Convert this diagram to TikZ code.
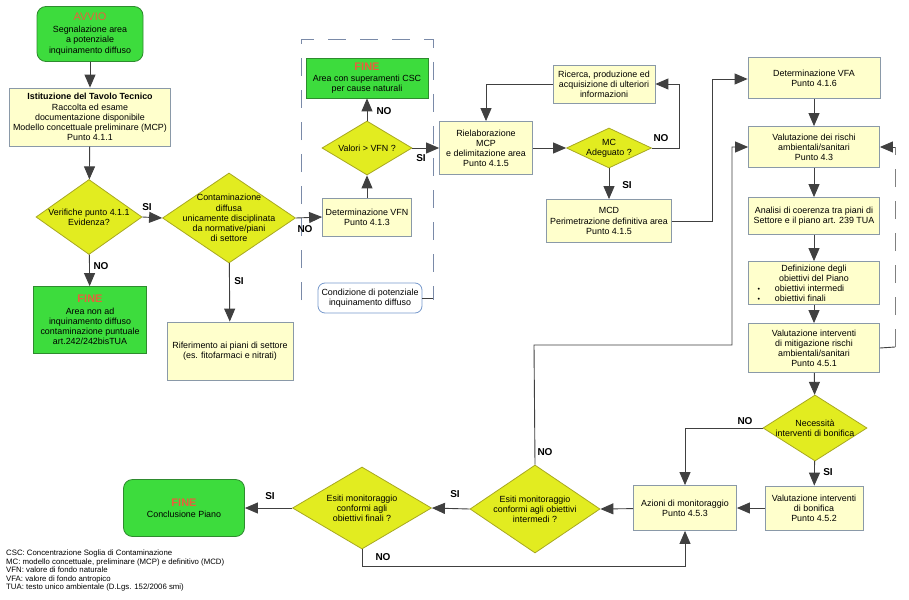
\documentclass[tikz,border=0pt]{standalone}
\usepackage{fontspec}
\setmainfont{Liberation Sans}
\usetikzlibrary{shapes.geometric,arrows.meta}
\definecolor{boxfill}{HTML}{FFFFCC}
\definecolor{boxborder}{HTML}{8A99A8}
\definecolor{diafill}{HTML}{E2EC20}
\definecolor{diaborder}{HTML}{A8A820}
\definecolor{greenfill}{HTML}{3DDC3D}
\definecolor{greenborder}{HTML}{2E8B2E}
\definecolor{titlecol}{HTML}{E8603C}
\definecolor{linecol}{HTML}{404040}
\definecolor{dashcol}{HTML}{7A8AA8}
\definecolor{condborder}{HTML}{7799CC}
\newcommand\boxfont{\fontsize{8.9}{10.1}\selectfont}
\newcommand\labfont{\fontsize{10}{12}\selectfont\bfseries}
\newcommand\titlefont{\fontsize{11}{13}\selectfont\bfseries\color{titlecol}}
\newcommand\legfont{\fontsize{7.8}{8.5}\selectfont}
\tikzset{
  base/.style={font=\boxfont, align=center, inner sep=1pt, line width=0.8pt},
  ybox/.style={base, rectangle, draw=boxborder, fill=boxfill},
  gbox/.style={base, rectangle, draw=greenborder, fill=greenfill},
  ground/.style={gbox, rounded corners=9pt},
  condbox/.style={base, rectangle, draw=condborder, fill=white, rounded corners=7pt},
  dia/.style={diamond, draw=diaborder, fill=diafill, line width=0.8pt, inner sep=0pt},
  dtext/.style={font=\boxfont, align=center, inner sep=0pt},
  conn/.style={draw=linecol, line width=0.9pt, -{Triangle[length=13pt,width=11pt]}},
  plain/.style={draw=linecol, line width=0.9pt},
  dashline/.style={draw=dashcol, line width=0.8pt, dash pattern=on 18pt off 14pt},
  lab/.style={font=\labfont, inner sep=0pt},
  sz/.style 2 args={minimum width=#1pt, minimum height=#2pt},
}
\begin{document}
\begin{tikzpicture}[x=1pt,y=-1pt]
\fill[white] (0,0) rectangle (909,599);
\useasboundingbox (0,0) rectangle (909,599);

% dashed region
\draw[dashline] (301,300) -- (301,39) -- (433,39) -- (433,300);

% nodes
\node[ground, sz={106}{55}] (avvio) at (90,34) {{\titlefont\mdseries AVVIO}\\[2pt]Segnalazione area\\a potenziale\\inquinamento diffuso};
\node[ybox, sz={161}{58}] (ist) at (90,117) {\textbf{Istituzione del Tavolo Tecnico}\\Raccolta ed esame\\documentazione disponibile\\Modello concettuale preliminare (MCP)\\Punto 4.1.1};
\node[dia, sz={106}{75}] (ver) at (89,217) {};
\node[dtext] (vert) at (ver) {Verifiche punto 4.1.1\\Evidenza?};
\node[gbox, sz={113}{67}] (fine1) at (90,320) {{\titlefont FINE}\\[2pt]Area non ad\\inquinamento diffuso\\contaminazione puntuale\\art.242/242bisTUA};
\node[dia, sz={133}{90}] (cont) at (229,218) {};
\node[dtext] (contt) at (cont) {Contaminazione\\diffusa\\unicamente disciplinata\\da normative/piani\\di settore};
\node[ybox, sz={126}{58}] (rif) at (230,351) {Riferimento ai piani di settore\\(es. fitofarmaci e nitrati)};

\node[gbox, sz={122}{40}] (fine2) at (367,78) {{\titlefont FINE}\\[1pt]Area con superamenti CSC\\per cause naturali};
\node[dia, sz={90}{54}] (valvfn) at (367,148) {};
\node[dtext] (valvfnt) at (valvfn) {Valori > VFN ?};
\node[ybox, sz={89}{38}] (detvfn) at (367,217) {Determinazione VFN\\Punto 4.1.3};
\node[condbox, sz={104}{30}] (cond) at (370,298) {Condizione di potenziale\\inquinamento diffuso};

\node[ybox, sz={93}{53}] (riel) at (486,148) {Rielaborazione\\MCP\\e delimitazione area\\Punto 4.1.5};
\node[ybox, sz={102}{38}] (ric) at (604,84) {Ricerca, produzione ed\\acquisizione di ulteriori\\informazioni};
\node[dia, sz={85}{40}] (mc) at (609,148) {};
\node[dtext] (mct) at (mc) {MC\\Adeguato ?};
\node[ybox, sz={125}{43}] (mcd) at (609,221) {MCD\\Perimetrazione definitiva area\\Punto 4.1.5};

\node[ybox, sz={132}{41}] (vfa) at (814,78) {Determinazione VFA\\Punto 4.1.6};
\node[ybox, sz={131}{41}] (rischi) at (814,147) {Valutazione dei rischi\\ambientali/sanitari\\Punto 4.3};
\node[ybox, sz={131}{37}] (analisi) at (814,216) {Analisi di coerenza tra piani di\\Settore e il piano art. 239 TUA};
\node[ybox, sz={131}{43}] (defin) at (814,283) {Definizione degli\\obiettivi del Piano\\\makebox[123pt][l]{\hspace{5pt}{\scriptsize\textbullet}\hspace{15pt}obiettivi intermedi}\\\makebox[123pt][l]{\hspace{5pt}{\scriptsize\textbullet}\hspace{15pt}obiettivi finali}};
\node[ybox, sz={131}{49}] (mitig) at (814,348) {Valutazione interventi\\di mitigazione rischi\\ambientali/sanitari\\Punto 4.5.1};
\node[dia, sz={104}{66}] (nec) at (815,428) {};
\node[dtext] (nect) at (nec) {Necessità\\interventi di bonifica};
\node[ybox, sz={98}{44}] (bonif) at (814,508) {Valutazione interventi\\di bonifica\\Punto 4.5.2};
\node[ybox, sz={103}{45}] (azioni) at (685,508) {Azioni di monitoraggio\\Punto 4.5.3};
\node[dia, sz={130}{88}] (interm) at (535,509) {};
\node[dtext] (intermt) at (interm) {Esiti monitoraggio\\conformi agli obiettivi\\intermedi ?};
\node[dia, sz={139}{82}] (finali) at (362,508) {};
\node[dtext] (finalit) at (finali) {Esiti monitoraggio\\conformi agli\\obiettivi finali ?};
\node[ground, sz={121}{57}] (fine3) at (184,508) {{\titlefont FINE}\\[1pt]Conclusione Piano};

\node[font=\legfont, align=left, anchor=north west, inner sep=0pt] (legend) at (6,550) {CSC: Concentrazione Soglia di Contaminazione\\MC: modello concettuale, preliminare (MCP) e definitivo (MCD)\\VFN: valore di fondo naturale\\VFA: valore di fondo antropico\\TUA: testo unico ambientale (D.Lgs. 152/2006 smi)};

% coordinates
\coordinate (c1) at (486,84);
\coordinate (c2) at (679,148);
\coordinate (c3) at (679,84);
\coordinate (c4) at (712,221);
\coordinate (c5) at (712,79);
\coordinate (c6) at (895,347);
\coordinate (c7) at (895,147);
\coordinate (c8) at (534,345);
\coordinate (c9) at (732,345);
\coordinate (c10) at (732,147);
\coordinate (c11) at (362,566);
\coordinate (c12) at (685,566);
\coordinate (c13) at (685,428);
\coordinate (c14) at (433,298);

% connectors
\draw[conn] (avvio) -- (ist);
\draw[conn] (ist) -- (ver);
\draw[conn] (ver) -- (fine1);
\draw[conn] (ver.east) -- (cont.west);
\draw[conn] (cont) -- (rif);
\draw[conn] (cont.east) -- (detvfn.west);
\draw[conn] (detvfn) -- (valvfn);
\draw[conn] (valvfn) -- (fine2);
\draw[conn] (valvfn.east) -- (riel.west);
\draw[plain] (cond.east) -- (c14);
\draw[conn] (riel.east) -- (mc.west);
\draw[conn] (ric.west) -- (c1) -- (riel.north);
\draw[conn] (mc.east) -- (c2) -- (c3) -- (ric.east);
\draw[conn] (mc) -- (mcd);
\draw[conn] (mcd.east) -- (c4) -- (c5) -- (vfa.west |- c5);
\draw[conn] (vfa) -- (rischi);
\draw[conn] (rischi) -- (analisi);
\draw[conn] (analisi) -- (defin);
\draw[conn] (defin) -- (mitig);
\draw[conn] (mitig) -- (nec);
\draw[plain] (mitig.east) -- (c6);
\draw[dashline, draw=gray] (c6) -- (c7);
\draw[conn] (c7) -- (rischi.east);
\draw[conn] (nec.west) -- (c13) -- (azioni.north);
\draw[conn] (nec) -- (bonif);
\draw[conn] (bonif) -- (azioni);
\draw[conn] (azioni) -- (interm.east);
\draw[conn] (interm.north) -- (c8) -- (c9) -- (c10) -- (rischi.west);
\draw[conn] (interm.west) -- (finali.east);
\draw[conn] (finali.west) -- (fine3.east);
\draw[conn] (finali.south) -- (c11) -- (c12) -- (azioni.south);

% labels
\node[lab] (l1) at (101,266) {NO};
\node[lab] (l2) at (147,207) {SI};
\node[lab] (l3) at (239,281) {SI};
\node[lab] (l4) at (305,229) {NO};
\node[lab] (l5) at (384,111) {NO};
\node[lab] (l6) at (421,158) {SI};
\node[lab] (l7) at (661,138) {NO};
\node[lab] (l8) at (627,185) {SI};
\node[lab] (l9) at (745,421) {NO};
\node[lab] (l10) at (828,472) {SI};
\node[lab] (l11) at (545,452) {NO};
\node[lab] (l12) at (455,494) {SI};
\node[lab] (l13) at (270,496) {SI};
\node[lab] (l14) at (383,557) {NO};
\end{tikzpicture}
\end{document}
